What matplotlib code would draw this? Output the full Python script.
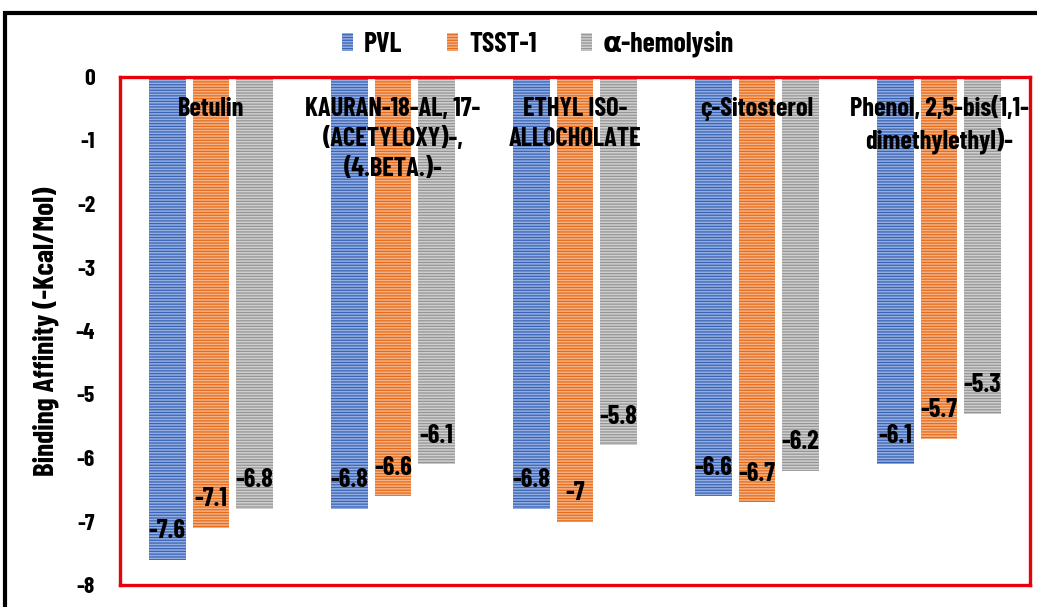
import matplotlib
matplotlib.use("Agg")
import matplotlib.pyplot as plt
from matplotlib.patches import Rectangle
import numpy as np

plt.rcParams["font.family"] = ["Barlow Condensed", "DejaVu Sans"]
plt.rcParams["font.weight"] = "bold"
plt.rcParams["axes.labelweight"] = "bold"
plt.rcParams["hatch.linewidth"] = 0.9

compounds = [
    "Betulin",
    "KAURAN-18-AL, 17-\n(ACETYLOXY)-,\n(4.BETA.)-",
    "ETHYL ISO-\nALLOCHOLATE",
    "ç-Sitosterol",
    "Phenol, 2,5-bis(1,1-\ndimethylethyl)-",
]
series = ["PVL", "TSST-1", "α-hemolysin"]
pvl = [-7.6, -6.8, -6.8, -6.6, -6.1]
tsst = [-7.1, -6.6, -7.0, -6.7, -5.7]
hemolysin = [-6.8, -6.1, -5.8, -6.2, -5.3]

faces = ["#94aee0", "#f4b185", "#cfcfcf"]
lines = ["#3a64b6", "#e66c1a", "#959595"]

fig = plt.figure(figsize=(10.37, 6.07), dpi=100)
ax = fig.add_axes([120 / 1037, 1 - 585 / 607, 910 / 1037, 508 / 607])

x = np.arange(len(compounds))
width = 0.2
step = 0.24
handles = []
for i, (name, vals) in enumerate(zip(series, [pvl, tsst, hemolysin])):
    pos = x + (i - 1) * step
    b = ax.bar(pos, vals, width, color=faces[i], edgecolor=lines[i], hatch="------",
               linewidth=0, label=name, zorder=2)
    handles.append(b)
    for p, v in zip(pos, vals):
        ax.text(p, v + 0.45, f"{v:g}", ha="center", va="center", fontsize=19,
                color="black", zorder=3)

for xi, lab in zip(x, compounds):
    ax.text(xi, -0.32, lab, ha="center", va="top", fontsize=19, linespacing=1.3,
            color="black", zorder=4)

ax.set_xlim(-0.5, len(compounds) - 0.5)
ax.set_ylim(-8, 0)
ax.set_xticks([])
ax.set_yticks(range(-8, 1))
ax.set_yticklabels([str(t) for t in range(-8, 1)], fontsize=17)
ax.tick_params(axis="y", length=0, pad=18)
ax.set_ylabel("Binding Affinity (-Kcal/Mol)", fontsize=21, labelpad=12)
for s in ax.spines.values():
    s.set_color("#e8000b")
    s.set_linewidth(2.4)

fig.legend(handles=handles, labels=series, loc="center",
           bbox_to_anchor=(538 / 1037, 1 - 44 / 607), ncol=3, frameon=False,
           fontsize=20, handlelength=0.4, handleheight=0.6,
           columnspacing=1.6, handletextpad=0.4)

fig.patches.append(Rectangle((5 / 1037, -0.1), 1.2, 1.1 - 13 / 607, transform=fig.transFigure,
                             fill=False, edgecolor="black", linewidth=3))

fig.savefig("out.png", dpi=100)
